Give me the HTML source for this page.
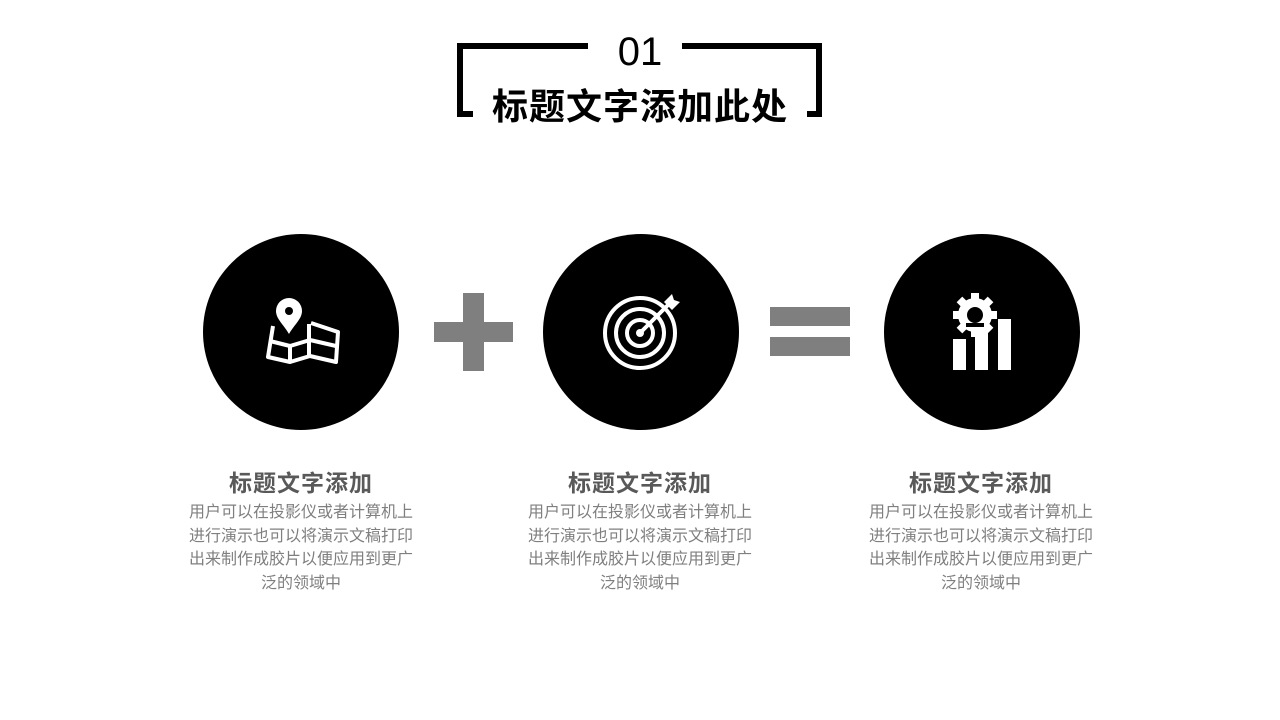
<!DOCTYPE html>
<html><head><meta charset="utf-8"><style>
body{margin:0;width:1280px;height:720px;background:#fff;position:relative;overflow:hidden;font-family:"Liberation Sans","Noto Sans CJK SC",sans-serif}
.a{position:absolute}
.b{background:#000}
.c{position:absolute;width:196px;height:196px;border-radius:50%;background:#000;top:234px}
.g{background:#7f7f7f;position:absolute}
.t{position:absolute;width:300px;text-align:center;top:466px;font-size:23px;font-weight:bold;color:#595959;letter-spacing:1px;line-height:34px}
.p{position:absolute;width:300px;text-align:center;top:501px;font-size:16px;color:#7f7f7f;letter-spacing:0;line-height:23.5px;white-space:nowrap}
</style></head><body>
<div class="a b" style="left:457px;top:43px;width:131px;height:6px"></div>
<div class="a b" style="left:457px;top:43px;width:6px;height:74px"></div>
<div class="a b" style="left:457px;top:111px;width:16px;height:6px"></div>
<div class="a b" style="left:682px;top:43px;width:140px;height:6px"></div>
<div class="a b" style="left:816px;top:43px;width:6px;height:74px"></div>
<div class="a b" style="left:807px;top:111px;width:15px;height:6px"></div>
<div class="a" style="left:540px;width:200px;top:28px;text-align:center;font-size:40px;line-height:48px">01</div>
<div class="a" style="left:440px;width:400px;top:82px;text-align:center;font-size:36px;font-weight:bold;letter-spacing:1px;line-height:50px">标题文字添加此处</div>

<div class="c" style="left:203px"></div>
<div class="c" style="left:543px"></div>
<div class="c" style="left:884px"></div>

<div class="g" style="left:434px;top:322px;width:79px;height:20px"></div>
<div class="g" style="left:463px;top:293px;width:21px;height:78px"></div>
<div class="g" style="left:770px;top:307px;width:80px;height:19px"></div>
<div class="g" style="left:770px;top:337px;width:80px;height:19px"></div>

<svg class="a" style="left:0;top:0" width="1280" height="720">
<g fill="none" stroke="#fff" stroke-width="4" stroke-linejoin="round">
<path d="M273 326 L268 357 L290 362 L310 356 L336 362 L338 332 L311 323"/>
<path d="M309 324 L309 356 M270 341 L290 346 L310 340 L336 346 M290 346 L290 362"/>
</g>
<path d="M289 298 a13 13 0 0 1 13 13 c0 8 -8 14 -13 23 c-5 -9 -13 -15 -13 -23 a13 13 0 0 1 13 -13z" fill="#fff"/>
<circle cx="289" cy="311" r="4" fill="#000"/>
<g fill="none" stroke="#fff" stroke-width="4">
<circle cx="640" cy="333" r="35"/><circle cx="640" cy="333" r="24"/><circle cx="640" cy="333" r="13"/>
</g>
<circle cx="640" cy="333" r="4" fill="#fff"/>
<path d="M640 333 L668 305" stroke="#fff" stroke-width="4"/>
<path d="M664 302 L672 294 L674 300 L680 302 L672 310z" fill="#fff"/>
<g fill="#fff">
<circle cx="975" cy="315" r="17"/>
<g transform="translate(975 315)">
<rect x="-4" y="-22" width="8" height="44"/><rect x="-22" y="-4" width="44" height="8"/>
<rect x="-4" y="-22" width="8" height="44" transform="rotate(45)"/><rect x="-4" y="-22" width="8" height="44" transform="rotate(-45)"/>
</g>
<rect x="953" y="339" width="13" height="31"/><rect x="975" y="329" width="13" height="41"/><rect x="998" y="319" width="13" height="51"/>
</g>
<circle cx="975" cy="315" r="8" fill="#000"/>
<rect x="966" y="323" width="18" height="4" fill="#000"/>
</svg>

<div class="t" style="left:151px">标题文字添加</div>
<div class="p" style="left:151px">用户可以在投影仪或者计算机上<br>进行演示也可以将演示文稿打印<br>出来制作成胶片以便应用到更广<br>泛的领域中</div>
<div class="t" style="left:490px">标题文字添加</div>
<div class="p" style="left:490px">用户可以在投影仪或者计算机上<br>进行演示也可以将演示文稿打印<br>出来制作成胶片以便应用到更广<br>泛的领域中</div>
<div class="t" style="left:831px">标题文字添加</div>
<div class="p" style="left:831px">用户可以在投影仪或者计算机上<br>进行演示也可以将演示文稿打印<br>出来制作成胶片以便应用到更广<br>泛的领域中</div>
</body></html>
